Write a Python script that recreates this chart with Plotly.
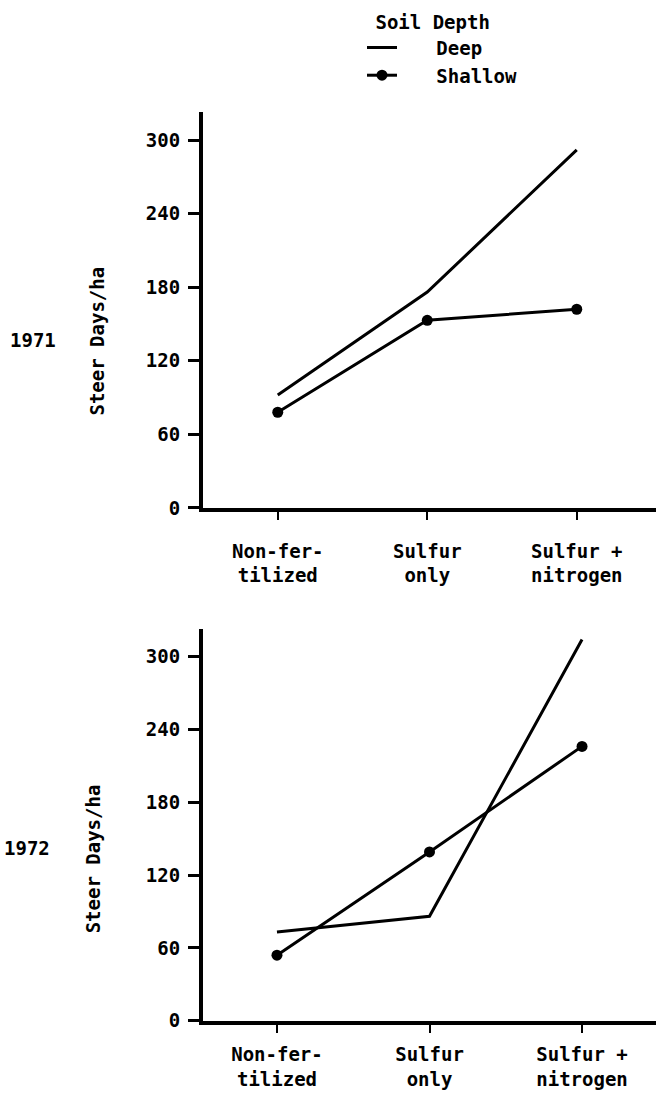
import plotly.graph_objects as go

categories = ["Non-fer-<br>tilized", "Sulfur<br>only", "Sulfur +<br>nitrogen"]
cat_pos = [0, 1, 2]
deep_1971 = [92, 176, 292]
shallow_1971 = [78, 153, 162]
deep_1972 = [73, 86, 314]
shallow_1972 = [54, 139, 226]
y_ticks = [0, 60, 120, 180, 240, 300]
years = ["1971", "1972"]

W, H = 656, 1100
FONT = "DejaVu Sans Mono"
fs = 19

def px(x):
    return x / W

def py(y):
    return 1 - y / H

fig = go.Figure()
fig.add_trace(go.Scatter(x=cat_pos, y=deep_1971, mode="lines", name="\u00a0\u00a0\u00a0Deep",
                         line=dict(color="black", width=3), xaxis="x", yaxis="y"))
fig.add_trace(go.Scatter(x=cat_pos, y=shallow_1971, mode="lines+markers", name="\u00a0\u00a0\u00a0Shallow",
                         line=dict(color="black", width=3), marker=dict(color="black", size=11),
                         xaxis="x", yaxis="y"))
fig.add_trace(go.Scatter(x=cat_pos, y=deep_1972, mode="lines", name="Deep", showlegend=False,
                         line=dict(color="black", width=3), xaxis="x2", yaxis="y2"))
fig.add_trace(go.Scatter(x=cat_pos, y=shallow_1972, mode="lines+markers", name="Shallow", showlegend=False,
                         line=dict(color="black", width=3), marker=dict(color="black", size=11),
                         xaxis="x2", yaxis="y2"))

tf = dict(family=FONT, size=fs, color="black", weight="bold")
xcommon = dict(tickmode="array", tickvals=cat_pos, ticktext=categories, showgrid=False,
               zeroline=False, showline=True, linecolor="black", linewidth=4,
               ticks="outside", ticklen=8, tickwidth=2, tickcolor="black", tickfont=tf)
ycommon = dict(tickmode="array", tickvals=y_ticks, showgrid=False, zeroline=False,
               showline=True, linecolor="black", linewidth=4, ticks="outside", ticklen=11,
               tickwidth=2.5, tickcolor="black", ticklabelstandoff=4, tickfont=tf)

fig.update_layout(
    width=W, height=H, margin=dict(l=0, r=0, t=0, b=0),
    paper_bgcolor="white", plot_bgcolor="white",
    font=tf,
    xaxis=dict(domain=[px(203), 1], range=[-0.5, 2.53], anchor="y", ticklabelstandoff=15, **xcommon),
    yaxis=dict(domain=[py(513), py(113)], range=[0, 323], anchor="x", **ycommon),
    xaxis2=dict(domain=[px(203), 1], range=[-0.485, 2.485], anchor="y2", ticklabelstandoff=6, **xcommon),
    yaxis2=dict(domain=[py(1031), py(635)], range=[0, 323], anchor="x2", **ycommon),
    showlegend=True,
    legend=dict(x=px(362), y=py(4), xanchor="left", yanchor="top",
                title=dict(text="\u00a0Soil Depth", side="top", font=tf),
                font=tf, bgcolor="rgba(0,0,0,0)", tracegroupgap=0),
)

ann = [
    (years[0], 33, 343, 0),
    (years[1], 27, 857, 0),
    ("Steer Days/ha", 97, 345, -90),
    ("Steer Days/ha", 93, 867, -90),
]
for text, x, y, ang in ann:
    fig.add_annotation(text=text, x=px(x), y=py(y), xref="paper", yref="paper",
                       showarrow=False, textangle=ang, xanchor="center", yanchor="middle", font=tf)

fig.write_html("out.html", config={"displayModeBar": False},
               post_script="document.body.style.margin='0px';")
